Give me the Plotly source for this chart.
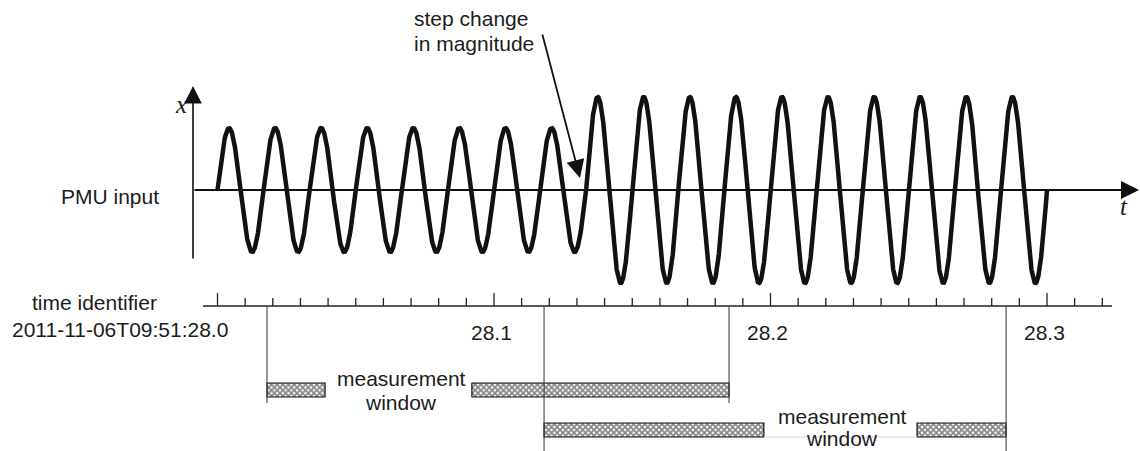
import numpy as np
import plotly.graph_objects as go

# ---------------- data ----------------
signal_start = 28.0          # s (time identifier 2011-11-06T09:51:28.0)
signal_end = 28.3
step_time = 28.1333          # step change in magnitude (after 8 cycles)
signal_freq_hz = 60.0
amp_before = 1.0
amp_after = 1.5

tick_times = [round(28.0 + 0.01 * i, 2) for i in range(33)]
major_ticks = [28.0, 28.1, 28.2, 28.3]
tick_labels = ["28.1", "28.2", "28.3"]
tick_label_times = [28.1, 28.2, 28.3]
origin_label = "2011-11-06T09:51:28.0"

window_start = [28.0179, 28.1181]
window_end = [28.1850, 28.2852]
label_gap_start = [28.0389, 28.1976]
label_gap_end = [28.0920, 28.2530]
label_time = [28.0664, 28.2259]

# ---------------- layout constants ----------------
W, H = 1140, 451
X0, X1 = 27.92134, 28.33363
UNIT = 62.0            # px per signal unit
ZERO_PX = 190.0
Y_TOP = ZERO_PX / UNIT
Y_BOT = (ZERO_PX - H) / UNIT
FONT = "Liberation Sans, Arial, sans-serif"
TXT = "#1c1c1c"


def px(x):
    return x / W


def py(y):
    return 1 - y / H


fig = go.Figure()

# signal
t = np.linspace(signal_start, signal_end, 4000)
amp = np.where(t < step_time, amp_before, amp_after)
v = amp * np.sin(2 * np.pi * signal_freq_hz * (t - signal_start))
fig.add_trace(go.Scatter(x=t, y=v, mode="lines",
                         line=dict(color="#111111", width=4.5),
                         hoverinfo="skip", showlegend=False))

# time axis line + ticks
AX_Y = 306
fig.add_trace(go.Scatter(x=[28.0 + (203 - 217.5) / 2765, 28.0 + (1112 - 217.5) / 2765],
                         y=[AX_Y, AX_Y], yaxis="y2", mode="lines",
                         line=dict(color="#222222", width=1.6),
                         hoverinfo="skip", showlegend=False))
tx, ty = [], []
for tt in tick_times:
    major = any(abs(tt - m) < 1e-9 for m in major_ticks)
    tx += [tt, tt, None]
    ty += [AX_Y, AX_Y - (13 if major else 8), None]
fig.add_trace(go.Scatter(x=tx, y=ty, yaxis="y2", mode="lines",
                         line=dict(color="#222222", width=1.3),
                         hoverinfo="skip", showlegend=False))

# window vertical lines
bar_y = [390, 430]
line_bottom = [403, 451]
for i in range(2):
    fig.add_trace(go.Scatter(
        x=[window_start[i], window_start[i], None, window_end[i], window_end[i]],
        y=[AX_Y, line_bottom[i], None, AX_Y, line_bottom[i]],
        yaxis="y2", mode="lines", line=dict(color="#444444", width=1.1),
        hoverinfo="skip", showlegend=False))

# faint line under the second window gap
fig.add_trace(go.Scatter(x=[label_gap_start[1], label_gap_end[1]], y=[437, 437],
                         yaxis="y2", mode="lines",
                         line=dict(color="#d8d8d8", width=1),
                         hoverinfo="skip", showlegend=False))

# hatched window bars
for i in range(2):
    bases = [window_start[i], label_gap_end[i]]
    lens = [label_gap_start[i] - window_start[i], window_end[i] - label_gap_end[i]]
    fig.add_trace(go.Bar(
        orientation="h", base=bases, x=lens, y=[bar_y[i], bar_y[i]], width=14,
        yaxis="y2",
        marker=dict(color="white",
                    pattern=dict(shape="x", size=4, solidity=0.7,
                                 fgcolor="#111111", bgcolor="white"),
                    line=dict(color="#111111", width=1.2)),
        hoverinfo="skip", showlegend=False))

ann = []


def text(x, y, s, size=21, xanchor="center", family=FONT, xref="paper", xshift=0):
    ann.append(dict(x=x, y=y, xref=xref, yref="paper", text=s, showarrow=False,
                    xanchor=xanchor, yanchor="middle", xshift=xshift,
                    font=dict(family=family, size=size, color=TXT)))


text(px(110), py(197), "PMU input")
text(px(94), py(302), "time identifier")
text(px(120), py(329), origin_label)
for tl, tt in zip(tick_labels, tick_label_times):
    text(tt, py(332), tl, xref="x", xshift=-3)
text(px(412), py(19), "step change", xanchor="left")
text(px(412), py(43), "in magnitude", xanchor="left")
lab_y = [(378, 402), (416, 438)]
for i in range(2):
    text(label_time[i], py(lab_y[i][0]), "measurement", xref="x")
    text(label_time[i], py(lab_y[i][1]), "window", xref="x")
text(px(181), py(105), "<i>x</i>", size=25, family="Liberation Serif, Times New Roman, serif")
text(px(1124), py(206), "<i>t</i>", size=25, family="Liberation Serif, Times New Roman, serif")


def arrow(x_tip, y_tip, x_tail, y_tail, width=1.6, size=1.6):
    ann.append(dict(x=px(x_tip), y=py(y_tip), xref="paper", yref="paper",
                    ax=x_tail - x_tip, ay=y_tail - y_tip, axref="pixel", ayref="pixel",
                    text="", showarrow=True, arrowhead=2, arrowsize=size,
                    arrowwidth=width, arrowcolor="#111111", standoff=0))


arrow(193, 86, 193, 260, width=1.6, size=2.2)       # x axis (vertical)
arrow(1139, 190, 193, 190, width=1.8, size=2.0)     # t axis (horizontal)
arrow(580, 178, 542, 33, width=1.8, size=2.0)       # step change arrow

fig.update_layout(
    width=W, height=H, margin=dict(l=0, r=0, t=0, b=0),
    paper_bgcolor="white", plot_bgcolor="white",
    barmode="overlay", showlegend=False,
    xaxis=dict(range=[X0, X1], visible=False, domain=[0, 1]),
    yaxis=dict(range=[Y_BOT, Y_TOP], visible=False, domain=[0, 1]),
    yaxis2=dict(range=[H, 0], visible=False, overlaying="y"),
    annotations=ann,
)

fig.write_html("out.html")
